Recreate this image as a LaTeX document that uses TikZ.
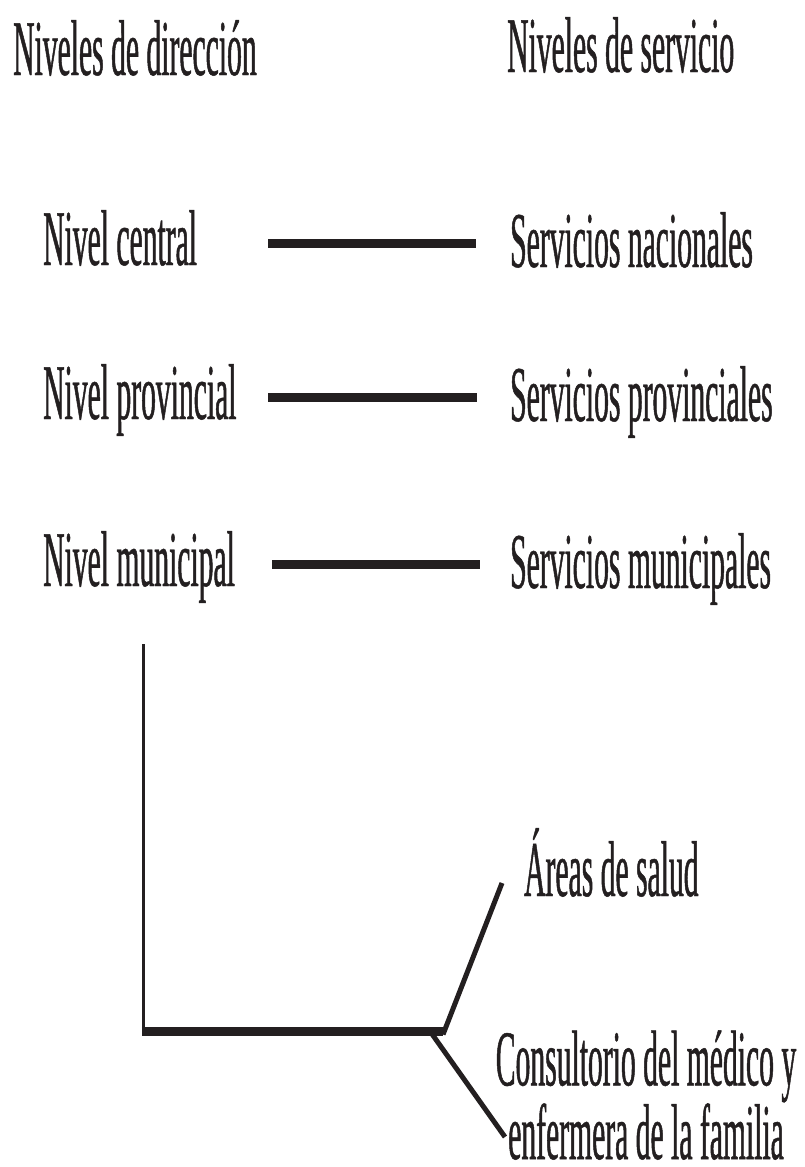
\documentclass[tikz,border=0pt]{standalone}
\usepackage{fontspec}
\setmainfont[FakeStretch=0.375,FakeBold=0.6]{Liberation Serif}
\definecolor{ink}{HTML}{231F20}
\begin{document}
\begin{tikzpicture}[x=1pt,y=-1pt,
  lbl/.style={inner sep=0pt, anchor=base west, text=ink,
              font=\fontsize{79}{65}\selectfont},
  bar/.style={draw=ink, line width=9pt},
  stem/.style={draw=ink, line width=3.5pt},
  branch/.style={draw=ink, line width=5pt}]
\useasboundingbox (0,0) rectangle (805,1167);

% column headings
\node[lbl] (hdL) at (13,75)  {Niveles de dirección};
\node[lbl] (hdR) at (507,72) {Niveles de servicio};

% management levels
\node[lbl] (central)    at (43,265) {Nivel central};
\node[lbl] (provincial) at (43,419) {Nivel provincial};
\node[lbl] (municipal)  at (43,586) {Nivel municipal};

% service levels
\node[lbl] (nacionales)   at (510,267) {Servicios nacionales};
\node[lbl] (provinciales) at (510,421) {Servicios provinciales};
\node[lbl] (municipales)  at (510,588) {Servicios municipales};

% primary care (base anchor sits on the last line)
\node[lbl] (areas) at (524,896) {Áreas de salud};
\node[lbl, anchor=base, align=center, text depth=0pt] (consult) at (646,1159)
  {Consultorio del médico y\\enfermera de la familia};

% bar end points
\coordinate (c1) at (268,243.5);  \coordinate (n1) at (476,243.5);
\coordinate (c2) at (268,397.5);  \coordinate (n2) at (477,397.5);
\coordinate (c3) at (272,564);    \coordinate (n3) at (480,564);

\draw[bar] (c1) -- (n1);
\draw[bar] (c2) -- (n2);
\draw[bar] (c3) -- (n3);

% bracket from the municipal level
\coordinate (top)    at (143.5,644);
\coordinate (corner) at (143.5,1031.5);
\coordinate (fork)   at (443,1031.5);
\coordinate (upEnd)  at (502,883);
\coordinate (dnFrom) at (432,1034);
\coordinate (dnEnd)  at (505,1137);

\draw[stem] (top) -- ([yshift=-4pt]corner);
\draw[bar] ([xshift=-1.75pt]corner) -- (fork);
\draw[branch] ([yshift=-3pt]fork) -- (upEnd);
\draw[branch] (dnFrom) -- (dnEnd);
\end{tikzpicture}
\end{document}
